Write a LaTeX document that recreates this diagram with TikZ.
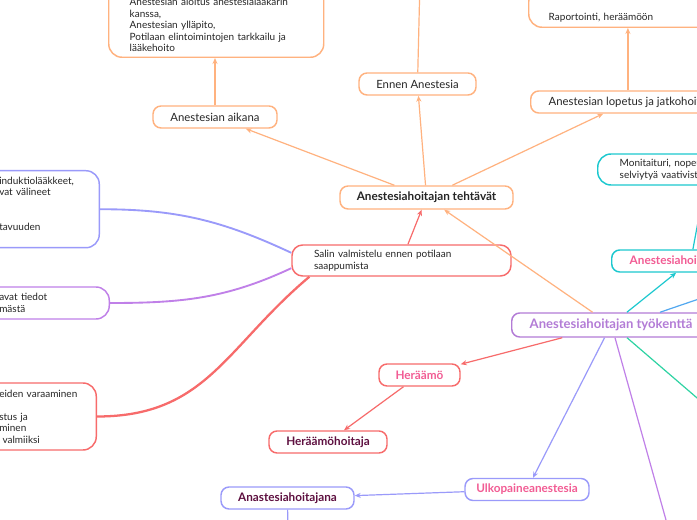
\documentclass[tikz,border=0pt]{standalone}
\usepackage{fontspec}
\setmainfont{Lato}
\usepackage{xcolor}
\usetikzlibrary{arrows.meta,positioning}

\definecolor{mmorange}{HTML}{FFB27F}
\definecolor{mmred}{HTML}{F76B6B}
\definecolor{mmlav}{HTML}{9A9AFA}
\definecolor{mmpurple}{HTML}{C080E8}
\definecolor{mmcyan}{HTML}{1CC8CF}
\definecolor{mmblue}{HTML}{52A8F0}
\definecolor{mmgreen}{HTML}{2ED3A3}
\definecolor{mmpink}{HTML}{F25C94}
\definecolor{mmmaroon}{HTML}{5E1040}
\definecolor{mmviolet}{HTML}{B37CD6}
\definecolor{mmtext}{HTML}{262626}

\tikzset{
  topic/.style={draw, rounded corners=6pt, line width=1.1pt, fill=white,
    minimum height=16.5pt, text=mmtext, font=\fontsize{8.5}{10}\selectfont},
  notebox/.style={draw, rounded corners=10pt, line width=1.1pt, fill=white,
    align=left, text=mmtext, font=\fontsize{7.5}{8.6}\selectfont},
  headtext/.style={font=\bfseries\fontsize{8.8}{10}\selectfont},
  link/.style={-{Stealth[length=4.5pt,width=3.8pt]}, line width=0.9pt},
  branch/.style={line width=1.4pt},
}

\begin{document}
\begin{tikzpicture}[x=0.75pt,y=-0.75pt]
\useasboundingbox (0,0) rectangle (697,520);
\clip (0,0) rectangle (697,520);
\fill[white] (0,0) rectangle (697,520);

% ylahaara
\node[notebox, draw=mmorange, anchor=south west, text width=129.75pt, inner xsep=15.75pt,
  inner ysep=4pt, text height=20pt] (aloitus) at (108,58)
  {Anestesian aloitus anestesialääkärin\\kanssa,\\Anestesian ylläpito,\\Potilaan elintoimintojen tarkkailu ja\\lääkehoito};
\node[notebox, draw=mmorange, anchor=south west, text width=150pt, inner xsep=15pt,
  inner ysep=4pt, text height=20pt] (raport) at (528,28) {Raportointi, heräämöön};
\node[topic, draw=mmorange, minimum width=87.75pt] (ennen) at (417.5,84) {Ennen Anestesia};
\node[topic, draw=mmorange, anchor=west, inner xsep=13.5pt] (lopetus) at (530,102)
  {Anestesian lopetus ja jatkohoito};
\node[topic, draw=mmorange, minimum width=93pt] (aikana) at (215,117) {Anestesian aikana};
\node[topic, draw=mmorange, headtext, minimum width=129.75pt, minimum height=17.25pt]
  (teh) at (426.5,197.5) {Anestesiahoitajan tehtävät};
\node[notebox, draw=mmred, text width=131.25pt, inner xsep=16.5pt, minimum height=23.25pt,
  rounded corners=8pt] (salin) at (401.5,260.5) {Salin valmistelu ennen potilaan\\saappumista};

% vasen reuna
\node[notebox, draw=mmlav, anchor=north east, text width=60pt, inner xsep=15pt,
  minimum height=57.75pt] (lavbox) at (100,170)
  {induktiolääkkeet,\\vat välineet\\~\\~\\tavuuden\\~};
\node[notebox, draw=mmpurple, anchor=east, text width=67.5pt, inner xsep=15pt,
  minimum height=24pt] (purbox) at (110,303) {avat tiedot\\mästä};
\node[notebox, draw=mmred, anchor=east, text width=57.75pt, inner xsep=15pt,
  minimum height=50.25pt] (redbox) at (97,416.5)
  {\mbox{eiden varaaminen}\\~\\stus ja\\minen\\~valmiiksi};

% oikea reuna
\node[notebox, draw=mmcyan, anchor=west, text width=132pt, inner xsep=16.5pt,
  minimum height=23.25pt] (moni) at (597,169.5) {Monitaituri, nopeus\\selviytyä vaativista};
\node[topic, draw=mmcyan, anchor=west, text width=91.5pt, align=left, inner xsep=13.5pt,
  headtext, text=mmpink] (anhoit) at (611,261) {Anestesiahoitaja};
\node[topic, draw=mmviolet, anchor=west, inner xsep=13.5pt, minimum height=18pt,
  font=\bfseries\fontsize{9.8}{11}\selectfont, text=mmviolet] (tyo) at (511,325)
  {Anestesiahoitajan työkenttä};

% alahaara
\node[topic, draw=mmred, headtext, text=mmpink, minimum width=60.75pt] (heraamo) at (419.5,375) {Heräämö};
\node[topic, draw=mmred, headtext, text=mmmaroon, minimum width=88.5pt] (hoitaja) at (328,442) {Heräämöhoitaja};
\node[topic, draw=mmlav, headtext, text=mmpink, minimum width=93pt] (ulko) at (527,489.5) {Ulkopaineanestesia};
\node[topic, draw=mmlav, headtext, text=mmmaroon, minimum width=99.75pt] (anast) at (287.5,498) {Anastesiahoitajana};

\coordinate (ennentop) at (420,-20);
\coordinate (blueend) at (734,287);
\coordinate (greenend) at (732,428);
\coordinate (purpend) at (673,545);
\coordinate (anastend) at (288,545);

% yhteydet
\draw[link, mmorange] (teh) -- (aikana);
\draw[link, mmorange] (teh) -- (ennen);
\draw[link, mmorange] (teh) -- (lopetus);
\draw[link, mmorange] (aikana) -- (aikana |- aloitus.south);
\draw[link, mmorange] (lopetus.north) -- (lopetus.north |- raport.south);
\draw[link, mmorange] (ennen) -- (ennentop);
\draw[link, mmred] (salin) -- (teh);
\draw[link, mmorange] (tyo) -- (teh);
\draw[link, mmcyan] (tyo) -- (anhoit);
\draw[link, mmcyan] (anhoit) -- (moni);
\draw[link, mmblue] ([xshift=111.75pt]tyo.north west) -- (blueend);
\draw[link, mmgreen] ([xshift=87pt]tyo.south west) -- (greenend);
\draw[link, mmpurple] ([xshift=78pt]tyo.south west) -- (purpend);
\draw[link, mmlav] (tyo) -- (ulko);
\draw[link, mmred] (tyo) -- (heraamo);
\draw[link, mmred] (heraamo) -- (hoitaja);
\draw[link, mmlav] (ulko) -- (anast);
\draw[link, mmlav] (anast) -- (anastend);

\draw[branch, mmlav] (lavbox.east) to[out=0, in=155] (salin.176);
\draw[branch, mmpurple] (purbox.east) to[out=0, in=205] (salin.184);
\draw[branch, mmred, line width=1.7pt] (redbox.east) to[out=0, in=220, looseness=1.1] (salin.190);
\end{tikzpicture}
\end{document}
